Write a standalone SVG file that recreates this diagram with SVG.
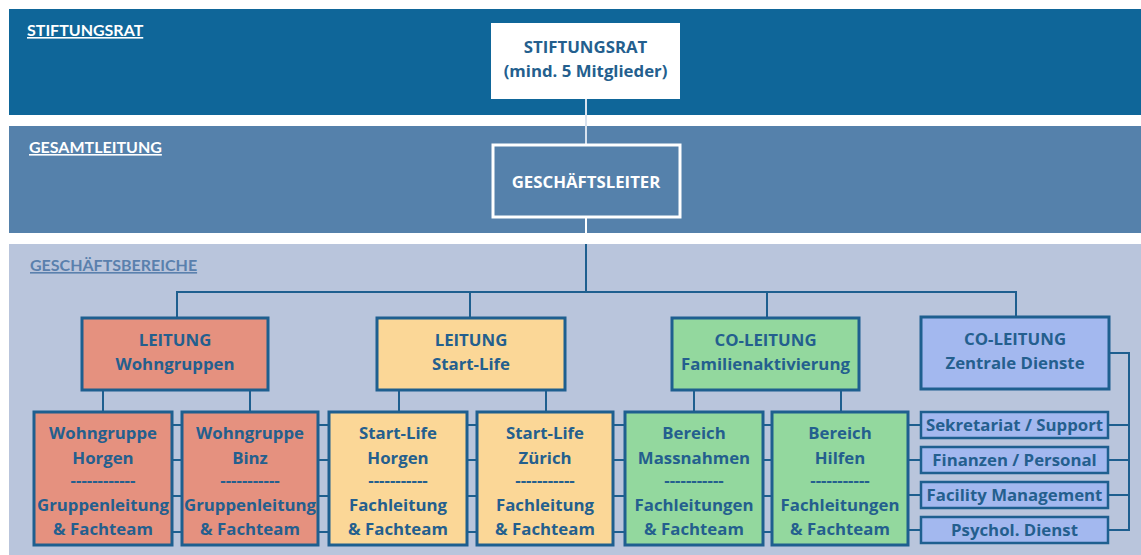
<svg xmlns="http://www.w3.org/2000/svg" width="1141" height="555" viewBox="0 0 1141 555">
<style>
text{font-family:"Open Sans",Lato,"Liberation Sans",sans-serif;font-weight:bold;text-anchor:middle;}
.band{font-family:Lato,"Open Sans",sans-serif;font-weight:bold;font-size:16px;text-anchor:start;text-decoration:underline;}
.t{font-size:16.8px;fill:#245f8e;}
.w{font-size:16.8px;fill:#ffffff;}
.box{stroke:#1e5f8f;stroke-width:3;}
.sm{stroke:#1e5f8f;stroke-width:2.5;fill:#a3b8ef;}
.con{stroke:#1e5f8f;stroke-width:2;fill:none;}
.red{fill:#e5917f;}
.yel{fill:#fbd797;}
.grn{fill:#93d89e;}
.blu{fill:#a3b8ef;}
</style>
<rect x="0" y="0" width="1141" height="555" fill="#ffffff"/>
<rect x="9" y="9" width="1132" height="106" fill="#0f6699"/>
<rect x="9" y="126" width="1132" height="107" fill="#5581ab"/>
<rect x="9" y="244" width="1132" height="311" fill="#b9c5dc"/>
<text class="band" x="27" y="36" fill="#ffffff">STIFTUNGSRAT</text>
<text class="band" x="29" y="153" fill="#ffffff">GESAMTLEITUNG</text>
<text class="band" x="30" y="271" fill="#5a80ad">GESCHÄFTSBEREICHE</text>
<g id="connectors">
<line x1="586" y1="99" x2="586" y2="144" stroke="#d8e2ee" stroke-width="2"/>
<line x1="586" y1="218" x2="586" y2="233" stroke="#ffffff" stroke-width="2"/>
<line x1="586" y1="244" x2="586" y2="292" class="con"/>
<polyline class="con" points="177,318 177,292 1016,292 1016,317"/>
<line class="con" x1="470" y1="292" x2="470" y2="318"/>
<line class="con" x1="767" y1="292" x2="767" y2="318"/>
<line class="con" x1="103" y1="390" x2="103" y2="412"/>
<line class="con" x1="250" y1="390" x2="250" y2="412"/>
<line class="con" x1="399" y1="390" x2="399" y2="412"/>
<line class="con" x1="546" y1="390" x2="546" y2="412"/>
<line class="con" x1="694" y1="390" x2="694" y2="412"/>
<line class="con" x1="841" y1="390" x2="841" y2="412"/>
<polyline class="con" points="1109,353 1129,353 1129,530 1108,530"/>
<line class="con" x1="1108" y1="425" x2="1129" y2="425"/>
<line class="con" x1="1108" y1="460" x2="1129" y2="460"/>
<line class="con" x1="1108" y1="495" x2="1129" y2="495"/>
<g class="con">
<path d="M172 425H182M172 460H182M172 496H182M172 532H182"/>
<path d="M318 425H329M318 460H329M318 496H329M318 532H329"/>
<path d="M467 425H477M467 460H477M467 496H477M467 532H477"/>
<path d="M613 425H625M613 460H625M613 496H625M613 532H625"/>
<path d="M763 425H772M763 460H772M763 496H772M763 532H772"/>
<path d="M908 425H921M908 460H921M908 495H921M908 530H921"/>
</g>
</g>
<g id="stiftungsrat">
<rect x="491" y="23" width="189" height="76" fill="#ffffff"/>
<text class="t" x="585.5" y="53">STIFTUNGSRAT</text>
<text class="t" x="585.5" y="77">(mind. 5 Mitglieder)</text>
</g>
<g id="geschaeftsleiter">
<rect x="493" y="145" width="187" height="72" fill="#5581ab" stroke="#ffffff" stroke-width="3"/>
<text class="w" x="586" y="188">GESCHÄFTSLEITER</text>
</g>
<g id="leitung-wohngruppen">
<rect class="box red" x="82" y="318" width="186" height="72"/>
<text class="t" x="175" y="346">LEITUNG</text>
<text class="t" x="175" y="370">Wohngruppen</text>
</g>
<g id="leitung-startlife">
<rect class="box yel" x="377" y="318" width="188" height="72"/>
<text class="t" x="471" y="346">LEITUNG</text>
<text class="t" x="471" y="370">Start-Life</text>
</g>
<g id="coleitung-familie">
<rect class="box grn" x="672" y="318" width="187" height="72"/>
<text class="t" x="765.5" y="346">CO-LEITUNG</text>
<text class="t" x="765.5" y="370">Familienaktivierung</text>
</g>
<g id="coleitung-zentrale">
<rect class="box blu" x="921" y="317" width="188" height="72"/>
<text class="t" x="1015" y="345">CO-LEITUNG</text>
<text class="t" x="1015" y="369">Zentrale Dienste</text>
</g>
<g id="wg-horgen">
<rect class="box red" x="34" y="412" width="138" height="133"/>
<text class="t" x="103" y="439">Wohngruppe</text>
<text class="t" x="103" y="464">Horgen</text>
<text class="t" x="103" y="486">------------</text>
<text class="t" x="103" y="511">Gruppenleitung</text>
<text class="t" x="103" y="535">&amp; Fachteam</text>
</g>
<g id="wg-binz">
<rect class="box red" x="182" y="412" width="136" height="133"/>
<text class="t" x="250" y="439">Wohngruppe</text>
<text class="t" x="250" y="464">Binz</text>
<text class="t" x="250" y="486">-----------</text>
<text class="t" x="250" y="511">Gruppenleitung</text>
<text class="t" x="250" y="535">&amp; Fachteam</text>
</g>
<g id="sl-horgen">
<rect class="box yel" x="329" y="412" width="138" height="133"/>
<text class="t" x="398" y="439">Start-Life</text>
<text class="t" x="398" y="464">Horgen</text>
<text class="t" x="398" y="486">-----------</text>
<text class="t" x="398" y="511">Fachleitung</text>
<text class="t" x="398" y="535">&amp; Fachteam</text>
</g>
<g id="sl-zuerich">
<rect class="box yel" x="477" y="412" width="136" height="133"/>
<text class="t" x="545" y="439">Start-Life</text>
<text class="t" x="545" y="464">Zürich</text>
<text class="t" x="545" y="486">-----------</text>
<text class="t" x="545" y="511">Fachleitung</text>
<text class="t" x="545" y="535">&amp; Fachteam</text>
</g>
<g id="bereich-massnahmen">
<rect class="box grn" x="625" y="412" width="138" height="133"/>
<text class="t" x="694" y="439">Bereich</text>
<text class="t" x="694" y="464">Massnahmen</text>
<text class="t" x="694" y="486">-----------</text>
<text class="t" x="694" y="511">Fachleitungen</text>
<text class="t" x="694" y="535">&amp; Fachteam</text>
</g>
<g id="bereich-hilfen">
<rect class="box grn" x="772" y="412" width="136" height="133"/>
<text class="t" x="840" y="439">Bereich</text>
<text class="t" x="840" y="464">Hilfen</text>
<text class="t" x="840" y="486">-----------</text>
<text class="t" x="840" y="511">Fachleitungen</text>
<text class="t" x="840" y="535">&amp; Fachteam</text>
</g>
<g id="sekretariat">
<rect class="sm" x="921" y="412" width="187" height="26"/>
<text class="t" x="1014.5" y="431">Sekretariat / Support</text>
</g>
<g id="finanzen">
<rect class="sm" x="921" y="447" width="187" height="26"/>
<text class="t" x="1014.5" y="466">Finanzen / Personal</text>
</g>
<g id="facility">
<rect class="sm" x="921" y="482" width="187" height="26"/>
<text class="t" x="1014.5" y="501">Facility Management</text>
</g>
<g id="psychol">
<rect class="sm" x="921" y="517" width="187" height="26"/>
<text class="t" x="1014.5" y="536">Psychol. Dienst</text>
</g>
</svg>
